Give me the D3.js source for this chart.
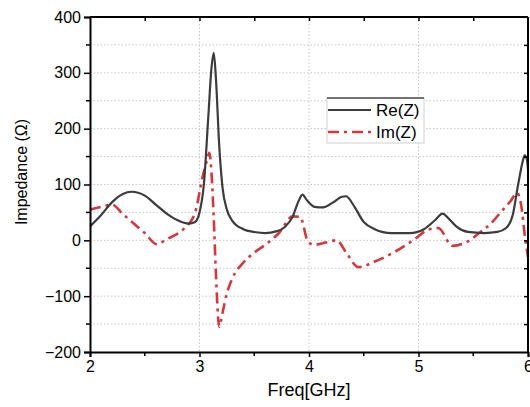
<!DOCTYPE html>
<html>
<head>
<meta charset="utf-8">
<script src="https://cdn.jsdelivr.net/npm/d3@7"></script>
<style>
  body { margin: 0; background: #fff; }
  text { font-family: "Liberation Sans", Arial, sans-serif; fill: #000; }
</style>
</head>
<body>
<div id="chart"></div>
<script>
// Frequency samples (GHz) and impedance values (Ohm)
const reFreq = [2.0, 2.1, 2.2, 2.3, 2.38, 2.5, 2.6, 2.7, 2.8, 2.9, 2.96, 3.0, 3.04, 3.08, 3.11, 3.13, 3.15, 3.18, 3.21, 3.25, 3.3, 3.4, 3.5, 3.6, 3.7, 3.78, 3.85, 3.9, 3.94, 3.98, 4.05, 4.13, 4.22, 4.3, 4.34, 4.4, 4.5, 4.6, 4.75, 4.92, 5.05, 5.15, 5.22, 5.28, 5.35, 5.45, 5.6, 5.72, 5.8, 5.86, 5.91, 5.95, 5.97, 5.99, 6.0];
const reVal  = [25, 45, 68, 83, 87, 80, 64, 48, 36, 30, 33, 50, 100, 220, 310, 336, 290, 170, 95, 55, 35, 20, 15, 13, 16, 24, 42, 68, 82, 72, 60, 59, 68, 78, 79, 65, 33, 20, 13, 13, 20, 36, 48, 38, 24, 15, 13, 15, 22, 45, 100, 140, 152, 145, 127];

const imFreq = [2.0, 2.1, 2.2, 2.3, 2.4, 2.5, 2.61, 2.7, 2.8, 2.87, 2.96, 3.03, 3.07, 3.09, 3.11, 3.13, 3.15, 3.18, 3.21, 3.25, 3.3, 3.4, 3.5, 3.6, 3.73, 3.85, 3.92, 3.99, 4.05, 4.15, 4.25, 4.35, 4.45, 4.6, 4.77, 4.95, 5.1, 5.18, 5.31, 5.45, 5.56, 5.66, 5.75, 5.84, 5.9, 5.94, 5.97, 6.0];
const imVal  = [55, 60, 64, 47, 30, 13, -7, 2, 12, 23, 50, 115, 145, 157, 120, 40, -60, -155, -130, -95, -68, -40, -22, -8, 14, 43, 42, -2, -8, -4, 0, -25, -48, -38, -22, 0, 20, 22, -10, -2, 14, 30, 50, 70, 85, 60, 10, -30];

const xTicks = [2, 3, 4, 5, 6];
const yTicks = [-200, -100, 0, 100, 200, 300, 400];
const yGrid = [-150, -100, -50, 0, 50, 100, 150, 200, 250, 300, 350];
const xGrid = [3, 4, 5];
const seriesNames = ["Re(Z)", "Im(Z)"];

const reColor = "#3c3c3c";
const imColor = "#d2393f";

const W = 530, H = 407;
const margin = { top: 17, right: 2, bottom: 55, left: 90 };
const width = W - margin.left - margin.right;
const height = H - margin.top - margin.bottom;

const svg = d3.select("#chart").append("svg")
    .attr("width", W)
    .attr("height", H);

const g = svg.append("g")
    .attr("transform", `translate(${margin.left},${margin.top})`);

const x = d3.scaleLinear().domain([2, 6]).range([0, width]);
const y = d3.scaleLinear().domain([-200, 400]).range([height, 0]);

// Grid
g.append("g").selectAll("line")
    .data(yGrid)
    .enter().append("line")
    .attr("x1", 0).attr("x2", width)
    .attr("y1", d => y(d)).attr("y2", d => y(d))
    .attr("stroke", "#c8c8c8")
    .attr("stroke-width", 1)
    .attr("stroke-dasharray", "1.5,2");

g.append("g").selectAll("line")
    .data(xGrid)
    .enter().append("line")
    .attr("y1", 0).attr("y2", height)
    .attr("x1", d => x(d)).attr("x2", d => x(d))
    .attr("stroke", "#c8c8c8")
    .attr("stroke-width", 1)
    .attr("stroke-dasharray", "1.5,2");

// Lines
const reData = reFreq.map((f, i) => ({ f: f, v: reVal[i] }));
const imData = imFreq.map((f, i) => ({ f: f, v: imVal[i] }));

const line = d3.line()
    .x(d => x(d.f))
    .y(d => y(d.v))
    .curve(d3.curveMonotoneX);

g.append("path")
    .datum(imData)
    .attr("d", line)
    .attr("fill", "none")
    .attr("stroke", imColor)
    .attr("stroke-width", 2.6)
    .attr("stroke-dasharray", "11,5,3,5");

g.append("path")
    .datum(reData)
    .attr("d", line)
    .attr("fill", "none")
    .attr("stroke", reColor)
    .attr("stroke-width", 2.2);

// Axes
const fmt = d3.format("d");
const bottomAx = g.append("g")
    .attr("transform", `translate(0,${height})`)
    .call(d3.axisBottom(x).tickValues(xTicks).tickFormat(fmt).tickSize(5).tickPadding(4));
bottomAx.append("g").selectAll("line")
    .data([2.5, 3.5, 4.5, 5.5])
    .enter().append("line")
    .attr("x1", d => x(d)).attr("x2", d => x(d))
    .attr("y1", 0).attr("y2", 4)
    .attr("stroke", "#000").attr("stroke-width", 1.5);

const leftAx = g.append("g")
    .call(d3.axisLeft(y).tickValues(yTicks).tickFormat(fmt).tickSize(6).tickPadding(3));
leftAx.append("g").selectAll("line")
    .data([-150, -50, 50, 150, 250, 350])
    .enter().append("line")
    .attr("x1", 0).attr("x2", -4)
    .attr("y1", d => y(d)).attr("y2", d => y(d))
    .attr("stroke", "#000").attr("stroke-width", 1.5);

const topAx = g.append("g")
    .call(d3.axisBottom(x).tickValues([2.5, 3, 3.5, 4, 4.5, 5, 5.5]).tickFormat("").tickSize(4));
const rightAx = g.append("g")
    .attr("transform", `translate(${width},0)`)
    .call(d3.axisLeft(y).tickValues(d3.range(-150, 400, 50)).tickFormat("").tickSize(4));

[bottomAx, leftAx, topAx, rightAx].forEach(a => {
    a.select(".domain").attr("stroke", "#000").attr("stroke-width", 2);
    a.selectAll(".tick line").attr("stroke", "#000").attr("stroke-width", 1.5);
    a.selectAll("text").style("font-size", "16px").style("font-family", "'Liberation Sans', Arial, sans-serif");
});
topAx.select(".domain").attr("d", `M0,0H${width}`);
rightAx.select(".domain").attr("d", `M0,0V${height}`);

// Axis titles
svg.append("text")
    .attr("x", margin.left + width / 2)
    .attr("y", 396)
    .attr("text-anchor", "middle")
    .style("font-size", "18px")
    .text("Freq[GHz]");

svg.append("text")
    .attr("transform", `translate(27,${172}) rotate(-90)`)
    .attr("text-anchor", "middle")
    .style("font-size", "16px")
    .text("Impedance (Ω)");

// Legend
const legend = svg.append("g").attr("transform", "translate(327,98)");
legend.append("rect")
    .attr("width", 97).attr("height", 45)
    .attr("fill", "#fff")
    .attr("stroke", "#d0d0d0")
    .attr("stroke-width", 1);
legend.append("line")
    .attr("x1", 0).attr("x2", 97).attr("y1", 0).attr("y2", 0)
    .attr("stroke", "#000").attr("stroke-width", 1);

const legendColors = [reColor, imColor];
const legendDash = [null, "11,5,3,5"];
seriesNames.forEach((name, i) => {
    legend.append("line")
        .attr("x1", 1).attr("x2", 44)
        .attr("y1", 12 + i * 22).attr("y2", 12 + i * 22)
        .attr("stroke", legendColors[i])
        .attr("stroke-width", i === 0 ? 2.2 : 2.6)
        .attr("stroke-dasharray", legendDash[i]);
    legend.append("text")
        .attr("x", 49)
        .attr("y", 18 + i * 22)
        .style("font-size", "17px")
        .text(name);
});
</script>
</body>
</html>
